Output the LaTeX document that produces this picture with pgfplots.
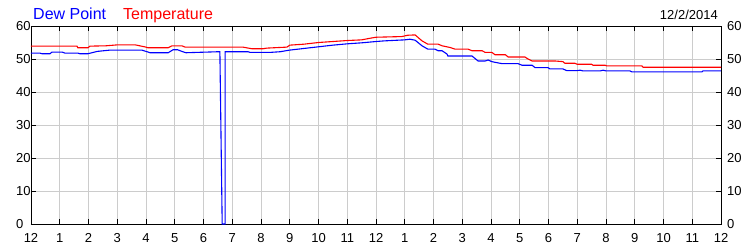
\documentclass[border=0pt]{standalone}
\usepackage{pgfplots}
\pgfplotsset{compat=1.18}
\usepackage{fontspec}
\setmainfont{Liberation Sans}
\definecolor{gridgray}{RGB}{204,204,204}
\definecolor{dewblue}{RGB}{0,0,255}
\definecolor{tempred}{RGB}{255,0,0}
\begin{document}
\begin{tikzpicture}
\begin{axis}[
  at={(0,0)}, anchor=south west,
  scale only axis, width=690bp, height=198bp,
  xmin=0, xmax=24, ymin=0, ymax=60,
  xtick={0,1,...,24},
  xticklabels={12,1,2,3,4,5,6,7,8,9,10,11,12,1,2,3,4,5,6,7,8,9,10,11,12},
  ytick={0,10,...,60},
  grid=major,
  major grid style={draw=gridgray, line width=0.8bp},
  tick align=inside, xtick pos=both, ytick pos=both,
  major tick length=5bp,
  tick style={black, line width=0.8bp},
  axis line style={black, line width=0.9bp},
  /pgf/number format/assume math mode=true,
  ticklabel style={font=\fontsize{13bp}{15bp}\selectfont, inner sep=0pt},
  xticklabel style={anchor=base, yshift=-18bp},
  yticklabel style={anchor=west, xshift=-15bp},
  clip=false,
]
\addplot[dewblue, line width=1.1bp] coordinates {
(0,51.8) (0.31,51.8) (0.38,51.6) (0.66,51.6) (0.73,52.1) (1.08,52.1) (1.18,51.8) (1.63,51.8) (1.7,51.6) (1.98,51.6) (2.12,51.9) (2.3,52.3) (2.75,52.7) (3.86,52.7) (4.14,51.9) (4.77,51.9) (4.83,52.2) (4.94,52.8) (5.1,52.8) (5.25,52.3) (5.39,51.9) (6.5,52.2) (6.57,52.2) (6.65,0) (6.75,0) (6.75,52.2) (7.55,52.2) (7.62,52.0) (8.31,52.0) (8.66,52.2) (9.0,52.7) (9.5,53.2) (10.0,53.7) (10.5,54.2) (11.0,54.6) (11.5,54.9) (12.0,55.3) (12.3,55.5) (13.0,55.8) (13.18,56.0) (13.36,55.7) (13.6,54.0) (13.8,53.0) (14.05,53.0) (14.16,52.5) (14.3,52.5) (14.47,51.5) (14.5,50.9) (15.34,50.9) (15.44,50.2) (15.55,49.4) (15.8,49.4) (15.9,49.7) (16.03,49.2) (16.14,49.0) (16.38,48.6) (16.94,48.6) (17.08,48.1) (17.43,48.1) (17.53,47.4) (17.98,47.4) (18.05,47.0) (18.5,47.0) (18.63,46.5) (19.0,46.5) (19.1,46.6) (19.2,46.4) (19.8,46.4) (19.9,46.6) (20.0,46.4) (20.83,46.4) (20.9,46.1) (23.34,46.1) (23.37,46.4) (24,46.4)
};
\addplot[tempred, line width=1.1bp] coordinates {
(0,53.9) (1.6,53.9) (1.63,53.4) (1.98,53.4) (2.05,53.9) (2.6,54.0) (3.03,54.3) (3.62,54.3) (4.0,53.6) (4.07,53.4) (4.77,53.4) (4.9,54.0) (5.25,54.0) (5.36,53.6) (7.37,53.6) (7.69,53.1) (8.07,53.1) (8.2,53.3) (8.9,53.6) (9.0,54.2) (9.5,54.5) (10.0,55.0) (10.5,55.3) (11.0,55.6) (11.5,55.8) (11.8,56.3) (12.0,56.6) (12.9,56.8) (13.1,57.2) (13.36,57.3) (13.6,55.5) (13.8,54.5) (14.16,54.5) (14.3,54.0) (14.57,53.5) (14.75,53.0) (15.2,53.0) (15.34,52.5) (15.69,52.5) (15.8,52.0) (16.03,52.0) (16.14,51.3) (16.5,51.3) (16.6,50.6) (17.18,50.6) (17.29,50.0) (17.43,49.4) (18.23,49.4) (18.5,49.2) (18.57,48.7) (18.92,48.7) (19.0,48.4) (19.5,48.4) (19.55,48.1) (19.97,48.1) (20.03,47.9) (21.25,47.9) (21.29,47.5) (24,47.5)
};
\node[anchor=base west, inner sep=0pt, text=dewblue, font=\fontsize{16bp}{18bp}\selectfont] at ([xshift=2bp,yshift=7bp]rel axis cs:0,1) {Dew Point};
\node[anchor=base west, inner sep=0pt, text=tempred, font=\fontsize{16bp}{18bp}\selectfont] at ([xshift=92bp,yshift=7bp]rel axis cs:0,1) {Temperature};
\node[anchor=base east, inner sep=0pt, font=\fontsize{13bp}{15bp}\selectfont] at ([xshift=-3bp,yshift=7bp]rel axis cs:1,1) {12/2/2014};
\end{axis}
\begin{axis}[
  at={(0,0)}, anchor=south west,
  scale only axis, width=690bp, height=198bp,
  xmin=0, xmax=24, ymin=0, ymax=60,
  xtick=\empty, ytick={0,10,...,60},
  yticklabel pos=right,
  axis line style={draw=none}, major tick length=0pt,
  /pgf/number format/assume math mode=true,
  ticklabel style={font=\fontsize{13bp}{15bp}\selectfont, inner sep=0pt},
  yticklabel style={anchor=west, xshift=6bp},
]
\end{axis}
\pgfresetboundingbox
\path[use as bounding box] (-31bp,-26bp) rectangle (719bp,224bp);
\end{tikzpicture}
\end{document}
